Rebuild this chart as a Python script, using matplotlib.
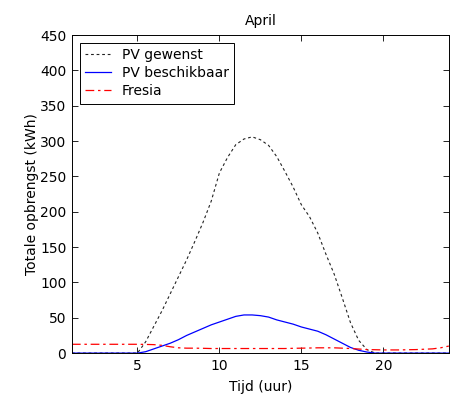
import numpy as np
import matplotlib.pyplot as plt

plt.rcParams['font.family'] = ['DejaVu Sans']
plt.rcParams['font.size'] = 10

# tijd in halve uren, 1 .. 24
tijd = np.arange(1, 24.01, 0.5)

# PV gewenst (kWh)
pv_gewenst = [0, 0, 0, 0, 0, 0, 0, 0, 0,
              16, 38, 60, 84, 108, 132, 158, 185, 215, 255, 277, 295, 303,
              306, 302, 294, 278, 257, 235, 210, 193, 170, 140, 112, 78, 43, 18, 5,
              0, 0, 0, 0, 0, 0, 0, 0, 0, 0]

# PV beschikbaar (kWh)
pv_beschikbaar = [0, 0, 0, 0, 0, 0, 0, 0, 0,
                  2, 6, 10, 14, 19, 25, 30, 35, 40, 44, 48, 52, 54,
                  54, 53, 51, 47, 44, 41, 37, 34, 31, 26, 20, 14, 8, 4, 1.5,
                  0, 0, 0, 0, 0, 0, 0, 0, 0, 0]

# Fresia verbruik (kWh)
fresia = [12.5, 12.5, 12.5, 12.5, 12.5, 12.5, 12.5, 12.5, 12.5, 12.3, 12,
          11, 9, 7.5, 7, 7, 6.8, 6.5, 6.5, 6.5, 6.5, 6.5, 6.5, 6.5, 6.5, 6.5, 6.5,
          6.8, 7, 7.2, 7.5, 7.5, 7.5, 7, 6.5, 5.8, 5, 4.8, 4.5, 4.5, 4.5, 4.8, 5,
          5.5, 6, 7.5, 10]

fig = plt.figure(figsize=(4.58, 3.99), dpi=100)
ax = fig.add_axes([0.157, 0.115, 0.823, 0.797])

ax.plot(tijd, pv_gewenst, color='#222222', lw=0.8, ls=(0, (2.5, 2.5)), label='PV gewenst')
ax.plot(tijd, pv_beschikbaar, color='blue', lw=0.9, label='PV beschikbaar')
ax.plot(tijd, fresia, color='red', lw=0.9, ls=(0, (7, 3, 2, 3)), label='Fresia')

ax.set_xlim(1, 24)
ax.set_ylim(0, 450)
ax.set_xticks([5, 10, 15, 20])
ax.set_yticks(np.arange(0, 451, 50))
ax.tick_params(direction='in', top=True, right=True, length=4, width=0.6, pad=4)
for s in ax.spines.values():
    s.set_linewidth(0.7)

ax.set_title('April', fontsize=10, pad=7)
ax.set_xlabel('Tijd (uur)', fontsize=10, labelpad=5)
ax.set_ylabel('Totale opbrengst (kWh)', fontsize=10, labelpad=1)

leg = ax.legend(loc='upper left', fancybox=False, edgecolor='black',
                framealpha=1, fontsize=10, handlelength=1.9, handletextpad=0.75,
                borderaxespad=0.55, labelspacing=0.28, borderpad=0.4)
leg.get_frame().set_linewidth(0.7)
# un peu plus de marge à droite, comme l'original
leg._legend_box.sep = 6

fig.savefig('out.png', dpi=100)
